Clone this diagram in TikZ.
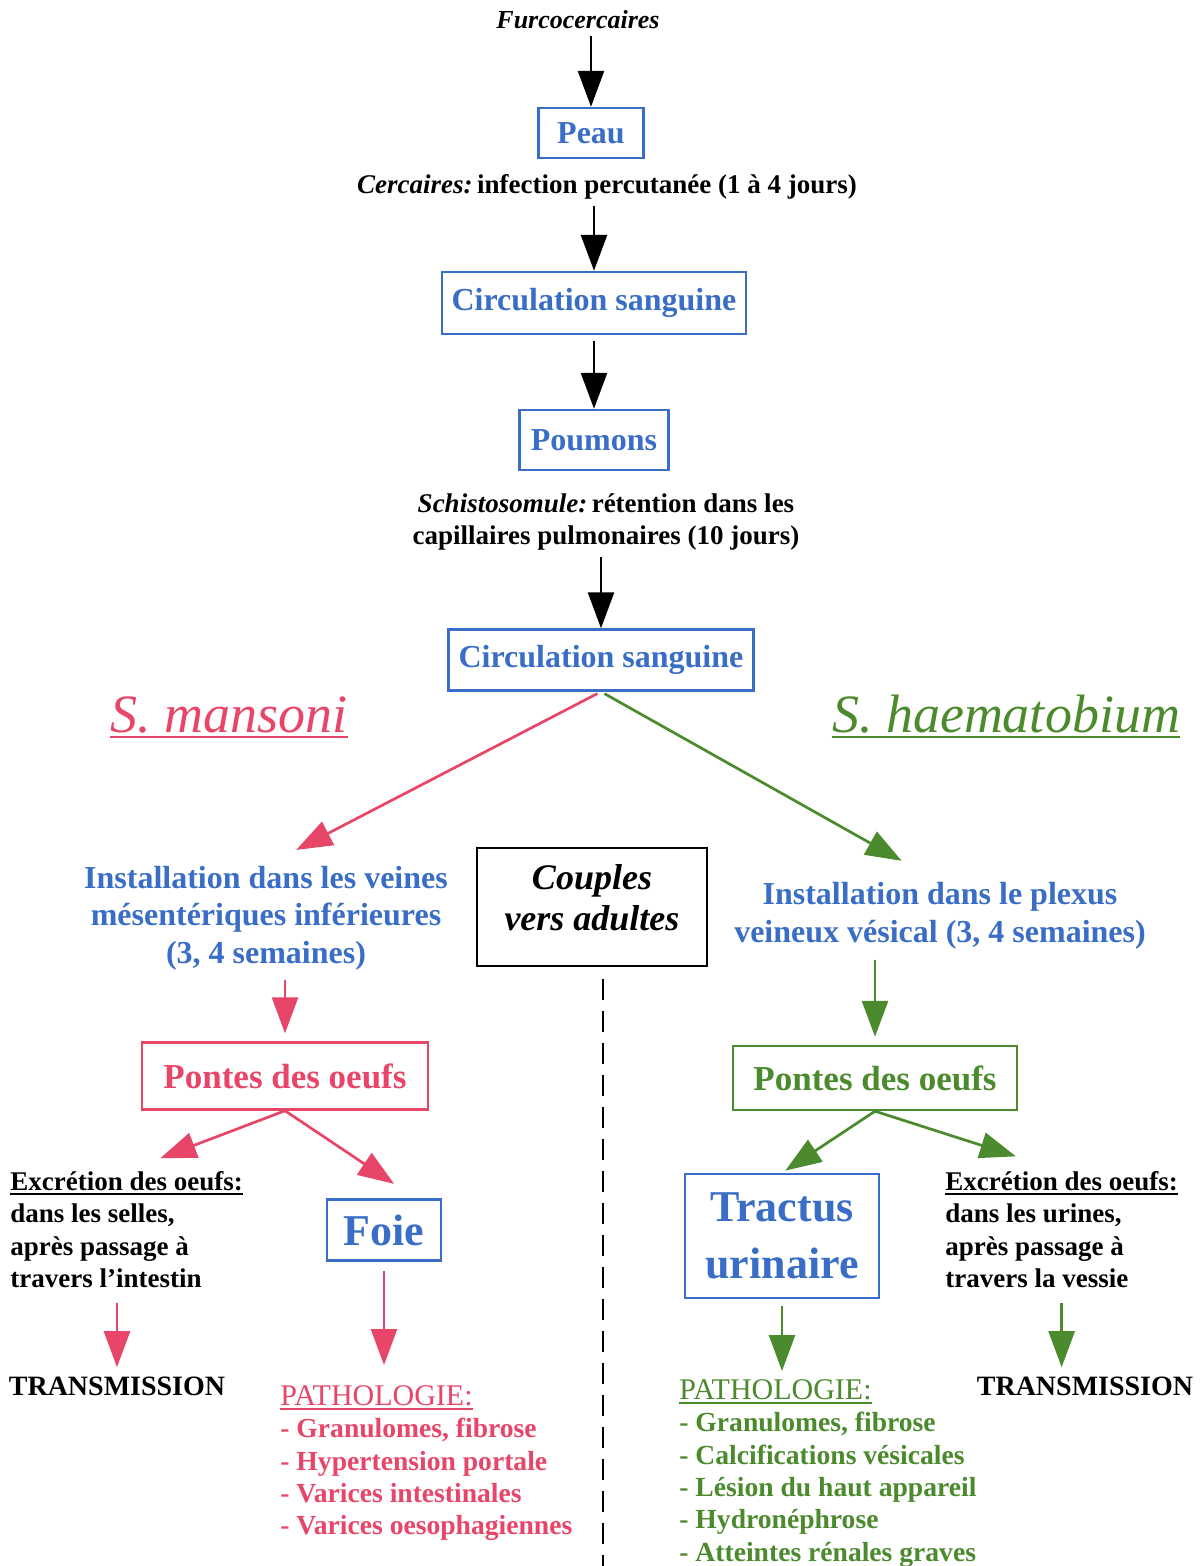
\documentclass[tikz,border=0pt]{standalone}
\usepackage{fontspec}
\setmainfont{Liberation Serif}
\usetikzlibrary{arrows.meta}
\definecolor{bleu}{RGB}{58,110,198}
\definecolor{rose}{RGB}{232,70,105}
\definecolor{vert}{RGB}{75,138,45}
\newcommand\souligne[1]{\setbox0\hbox{#1}\leavevmode\rlap{\rule[-2.5pt]{\wd0}{1pt}}\box0}

\begin{document}
\begin{tikzpicture}[x=0.5pt,y=-0.5pt,
  boite/.style={draw=bleu,line width=1.2pt,text=bleu,inner sep=0pt,
    font=\bfseries\fontsize{16}{19}\selectfont},
  texte/.style={inner sep=0pt,font=\bfseries\fontsize{13.5}{16.25}\selectfont},
  bleutexte/.style={inner sep=0pt,text=bleu,align=center,
    font=\bfseries\fontsize{16}{18.75}\selectfont},
  titre/.style={inner sep=0pt,font=\itshape\fontsize{27}{30}\selectfont},
  liste/.style={inner sep=0pt,align=left,anchor=north west,
    font=\bfseries\fontsize{13.8}{16.2}\selectfont},
  fleche/.style={line width=1.35pt,-{Triangle[length=18pt,width=13pt]}}]
\useasboundingbox [fill=white] (0,0) rectangle (1200,1566);

\node [texte,font=\bfseries\itshape\fontsize{13}{16}\selectfont] (furco) at (578,20) {Furcocercaires};
\node [boite,minimum width=52.5pt,minimum height=25pt] (peau) at (591,133) {Peau};
\node [texte] (cerc) at (607,187) {{\itshape Cercaires:}\,infection percutanée (1 à 4 jours)};
\node [boite,minimum width=152pt,minimum height=31pt] (circa) at (594,303) {Circulation sanguine};
\node [boite,minimum width=74.5pt,minimum height=30pt] (poum) at (594,440) {Poumons};
\node [texte,align=center] (schisto) at (606,522) {{\itshape Schistosomule:}\,rétention dans les\\capillaires pulmonaires (10 jours)};
\node [boite,minimum width=152.5pt,minimum height=30.5pt] (circb) at (601,660) {Circulation sanguine};

\node [titre,text=rose,anchor=base] (mans) at (229,732) {S. mansoni};
\node [titre,text=vert,anchor=base] (haema) at (1006,732) {S. haematobium};
\draw [rose,line width=1.2pt] ([yshift=-2.5pt]mans.base west) -- ([yshift=-2.5pt]mans.base east);
\draw [vert,line width=1.2pt] ([yshift=-2.5pt]haema.base west) -- ([yshift=-2.5pt]haema.base east);

\node [bleutexte] (insta) at (266,918) {Installation dans les veines\\mésentériques inférieures\\(3, 4 semaines)};
\node [draw,line width=1.4pt,minimum width=115pt,minimum height=59pt] (couples) at (592,907) {};
\node [inner sep=0pt,align=center,font=\bfseries\itshape\fontsize{18}{20.5}\selectfont]
  (couplestexte) at ([yshift=4.5pt]couples.center) {Couples\\vers adultes};
\node [bleutexte] (instb) at (940,916) {Installation dans le plexus\\veineux vésical (3, 4 semaines)};

\node [boite,draw=rose,text=rose,minimum width=143pt,minimum height=33.5pt,
  font=\bfseries\fontsize{17.5}{20}\selectfont] (pontea) at (285,1076) {Pontes des oeufs};
\node [boite,draw=vert,text=vert,minimum width=142pt,minimum height=32pt,
  font=\bfseries\fontsize{17.5}{20}\selectfont] (ponteb) at (875,1078) {Pontes des oeufs};

\node [texte,align=left,anchor=north west] (excra) at (10,1171) {\souligne{Excrétion des oeufs:}\\dans les selles,\\après passage à\\travers l’intestin};
\node [boite,minimum width=57pt,minimum height=30.5pt,font=\bfseries\fontsize{22}{26}\selectfont] (foie) at (384,1230) {Foie};
\node [boite,minimum width=97pt,minimum height=62pt,align=center,
  font=\bfseries\fontsize{22}{28.5}\selectfont] (tractus) at (782,1236) {Tractus\\urinaire};
\node [texte,align=left,anchor=north west] (excrb) at (945,1171) {\souligne{Excrétion des oeufs:}\\dans les urines,\\après passage à\\travers la vessie};

\node [texte,font=\bfseries\fontsize{14}{16}\selectfont] (transa) at (117,1386) {TRANSMISSION};
\node [texte,font=\bfseries\fontsize{14}{16}\selectfont] (transb) at (1085,1386) {TRANSMISSION};
\node [liste,text=rose] (pathoa) at (280,1385) {\souligne{\mdseries\fontsize{15}{16.2}\selectfont PATHOLOGIE:}\\- Granulomes, fibrose\\- Hypertension portale\\- Varices intestinales\\- Varices oesophagiennes};
\node [liste,text=vert] (pathob) at (679,1379) {\souligne{\mdseries\fontsize{15}{16.2}\selectfont PATHOLOGIE:}\\- Granulomes, fibrose\\- Calcifications vésicales\\- Lésion du haut appareil\\- Hydronéphrose\\- Atteintes rénales graves};

\coordinate (bas) at (603,1566);
\draw [line width=1.2pt,dash pattern=on 10.5pt off 5.5pt,shorten <=6pt] (bas |- couples.south) -- (bas);

\draw [fleche,shorten <=3pt] (peau.north |- furco.south) -- (peau.north);
\draw [fleche,shorten <=3pt] (circa.north |- cerc.south) -- (circa.north);
\draw [fleche,shorten <=3pt] (circa) -- (poum);
\draw [fleche,shorten <=3pt] (circb.north |- schisto.south) -- (circb.north);

\draw [fleche,rose,shorten <=2pt,shorten >=17pt] (circb.south) -- (insta.north);
\draw [fleche,vert,shorten <=2pt,shorten >=22pt] (circb.south) -- (instb.north);
\draw [fleche,rose,shorten <=5pt,shorten >=4pt] (pontea.north |- insta.south) -- (pontea.north);
\draw [fleche,vert,shorten <=5pt,shorten >=4pt] (ponteb.north |- instb.south) -- (ponteb.north);
\draw [fleche,rose,shorten >=18pt] (pontea.south) -- (excra.north);
\draw [fleche,rose,shorten >=13pt] (pontea.south) -- (foie.45);
\draw [fleche,vert,shorten >=2pt] (ponteb.south) -- (tractus.north);
\draw [fleche,vert,shorten >=24pt] (ponteb.south) -- (excrb.north);
\draw [fleche,rose,shorten <=7pt,shorten >=4.5pt] (transa.north |- excra.south) -- (transa.north);
\draw [fleche,rose,shorten <=4.5pt,shorten >=10pt] (foie.south) -- (foie.south |- pathoa.north);
\draw [fleche,vert,shorten <=3.5pt,shorten >=4pt] (tractus.south) -- (tractus.south |- pathob.north);
\draw [fleche,vert,shorten <=7pt,shorten >=4.5pt] (excrb.south) -- (excrb.south |- transb.north);
\end{tikzpicture}
\end{document}
